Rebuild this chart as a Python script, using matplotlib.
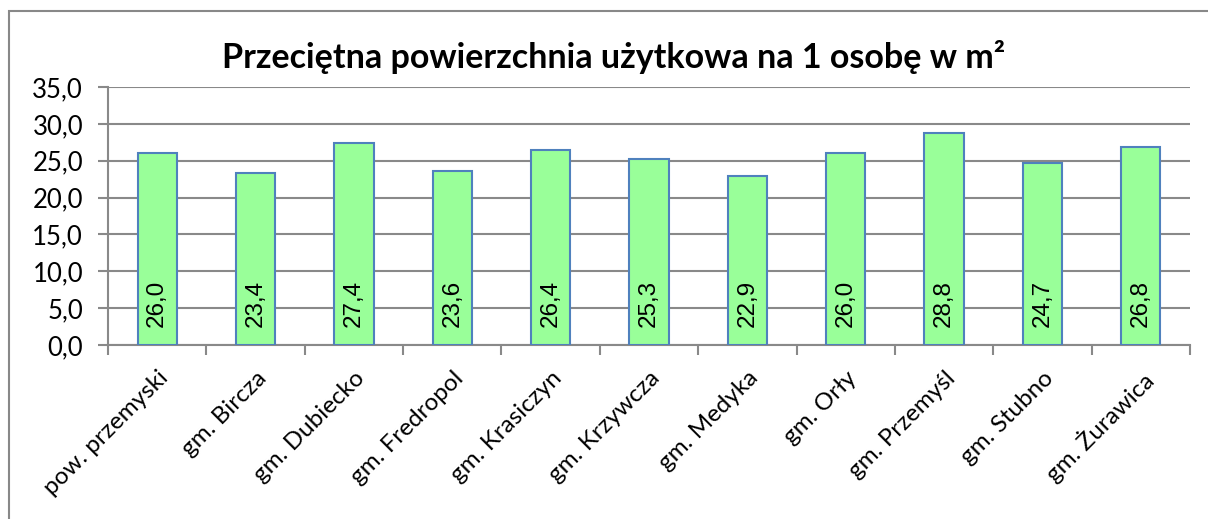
import numpy as np
import matplotlib.pyplot as plt
from matplotlib.patches import Rectangle

categories = ['pow. przemyski', 'gm. Bircza', 'gm. Dubiecko', 'gm. Fredropol',
              'gm. Krasiczyn', 'gm. Krzywcza', 'gm. Medyka', 'gm. Orły',
              'gm. Przemyśl', 'gm. Stubno', 'gm. Żurawica']
values = [26.0, 23.4, 27.4, 23.6, 26.4, 25.3, 22.9, 26.0, 28.8, 24.7, 26.8]
yticks = [0, 5, 10, 15, 20, 25, 30, 35]
title = 'Przeciętna powierzchnia użytkowa na 1 osobę w m²'

W, H = 1208, 519
fig = plt.figure(figsize=(W / 100, H / 100), dpi=100)
ax = fig.add_axes([108 / W, 1 - 345 / H, (1190 - 108) / W, (345 - 87) / H])

grid_c = '#898989'
x = np.arange(len(categories))
ax.bar(x, values, width=0.4, color='#99ff99', edgecolor='#4f81bd', linewidth=1.5, zorder=3)

for xi, v in zip(x, values):
    ax.annotate(('%.1f' % v).replace('.', ','), xy=(xi, 0), xytext=(0, 18),
                textcoords='offset pixels', rotation=90, ha='center', va='bottom',
                fontsize=17.5, family='Liberation Sans', zorder=4)

ax.set_xlim(-0.5, len(categories) - 0.5)
ax.set_ylim(0, 35)
ax.set_yticks(yticks)
ax.set_yticklabels([('%.1f' % t).replace('.', ',') for t in yticks],
                   fontsize=18.5, family='Lato')
ax.yaxis.grid(True, color=grid_c, linewidth=1.5, zorder=0)

# category boundaries carry the tick marks, labels sit under the bars
ax.set_xticks(np.arange(len(categories) + 1) - 0.5)
ax.set_xticklabels([])
ax.set_xticks(x, minor=True)
ax.set_xticklabels(categories, minor=True, rotation=45, ha='right',
                   rotation_mode='anchor', fontsize=17.5, family='Lato')
ax.tick_params(axis='x', which='major', length=7, width=1.5, color=grid_c)
ax.tick_params(axis='x', which='minor', length=0, pad=16)
ax.tick_params(axis='y', length=7, width=1.5, color=grid_c, pad=11)

for s in ['top', 'right']:
    ax.spines[s].set_visible(False)
for s in ['left', 'bottom']:
    ax.spines[s].set_color(grid_c)
    ax.spines[s].set_linewidth(1.5)

fig.text(614 / W, 1 - 57 / H, title, ha='center', va='center',
         fontsize=24.5, fontweight='bold', family='Lato')

fig.patches.append(Rectangle((9 / W, -0.1), 1.2, 1.1 - 11 / H, transform=fig.transFigure,
                             fill=False, edgecolor='#888888', linewidth=1.5))

fig.savefig('out.png', dpi=100)
